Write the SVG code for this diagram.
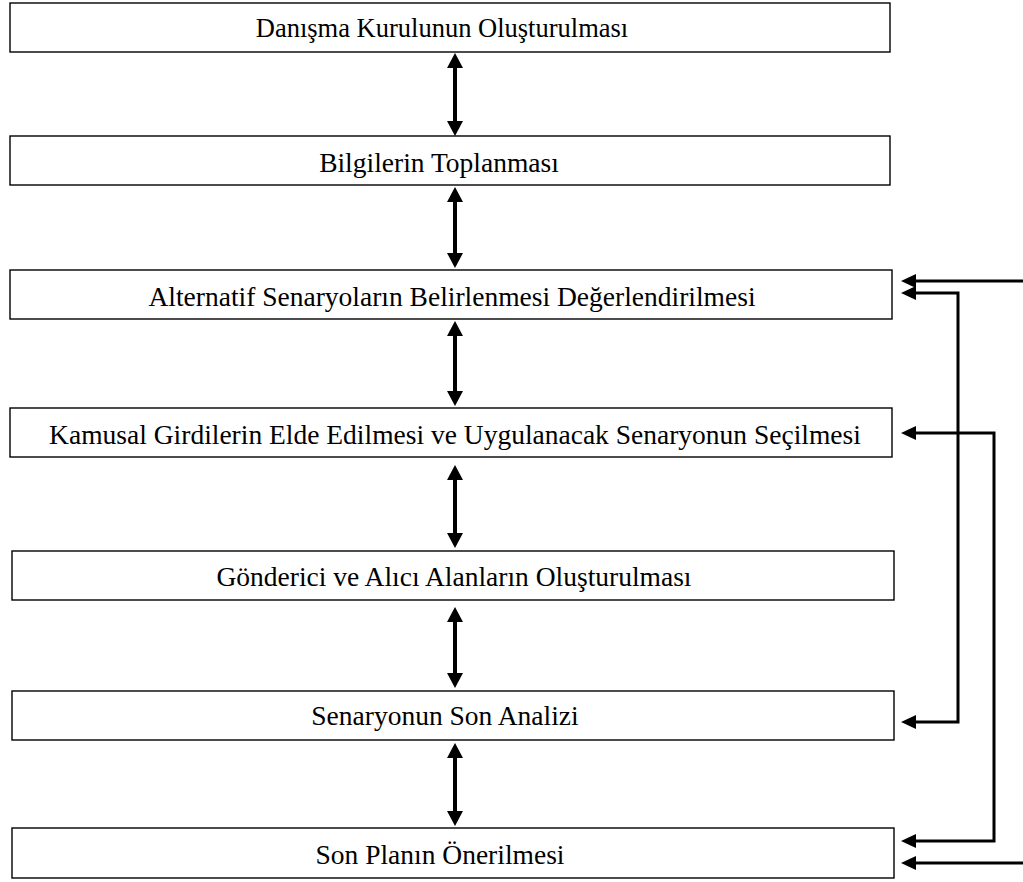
<svg xmlns="http://www.w3.org/2000/svg" width="1023" height="882" viewBox="0 0 1023 882">
<style>
.box{fill:#fff;stroke:#000;stroke-width:1.4}
.lbl{font-family:"Liberation Serif","Times New Roman",serif;font-size:27.5px;fill:#000;text-anchor:middle}
.va{fill:none;stroke:#000;stroke-width:4;marker-start:url(#ah);marker-end:url(#ah)}
.fb{fill:none;stroke:#000;stroke-width:3}
</style>
<defs>
<marker id="ah" viewBox="0 0 15 16" refX="5" refY="8" markerWidth="15" markerHeight="16" markerUnits="userSpaceOnUse" orient="auto-start-reverse"><path d="M0,0 L15,8 L0,16 z" fill="#000"/></marker>
<marker id="ah2" viewBox="0 0 15 14" refX="5" refY="7" markerWidth="15" markerHeight="14" markerUnits="userSpaceOnUse" orient="auto-start-reverse"><path d="M0,0 L15,7 L0,14 z" fill="#000"/></marker>
</defs>
<rect width="1023" height="882" fill="#fff"/>
<g id="n1"><rect class="box" x="10" y="3" width="880" height="49"/><text class="lbl" x="442" y="37" style="font-size:26.5px">Danışma Kurulunun Oluşturulması</text></g>
<g id="n2"><rect class="box" x="10" y="136" width="880" height="49"/><text class="lbl" x="439" y="172">Bilgilerin Toplanması</text></g>
<g id="n3"><rect class="box" x="10" y="270" width="882" height="49"/><text class="lbl" x="452" y="306">Alternatif Senaryoların Belirlenmesi Değerlendirilmesi</text></g>
<g id="n4"><rect class="box" x="10" y="408" width="882" height="49"/><text class="lbl" x="455" y="444">Kamusal Girdilerin Elde Edilmesi ve Uygulanacak Senaryonun Seçilmesi</text></g>
<g id="n5"><rect class="box" x="12" y="551" width="882" height="49"/><text class="lbl" x="454" y="586">Gönderici ve Alıcı Alanların Oluşturulması</text></g>
<g id="n6"><rect class="box" x="12" y="691" width="882" height="49"/><text class="lbl" x="445" y="725">Senaryonun Son Analizi</text></g>
<g id="n7"><rect class="box" x="12" y="828" width="882" height="50"/><text class="lbl" x="440" y="864">Son Planın Önerilmesi</text></g>
<g id="connectors">
<path class="va" d="M455,63 V126"/>
<path class="va" d="M455,197 V258"/>
<path class="va" d="M455,331 V396"/>
<path class="va" d="M455,475 V538"/>
<path class="va" d="M455,617 V678"/>
<path class="va" d="M455,753 V816"/>
<path class="fb" d="M1023,281 H911" marker-end="url(#ah2)"/>
<path class="fb" d="M911,293 H958 V722 H911" marker-start="url(#ah2)" marker-end="url(#ah2)"/>
<path class="fb" d="M911,433 H994 V841 H911" marker-start="url(#ah2)" marker-end="url(#ah2)"/>
<path class="fb" d="M1023,863 H911" marker-end="url(#ah2)"/>
</g>
</svg>
